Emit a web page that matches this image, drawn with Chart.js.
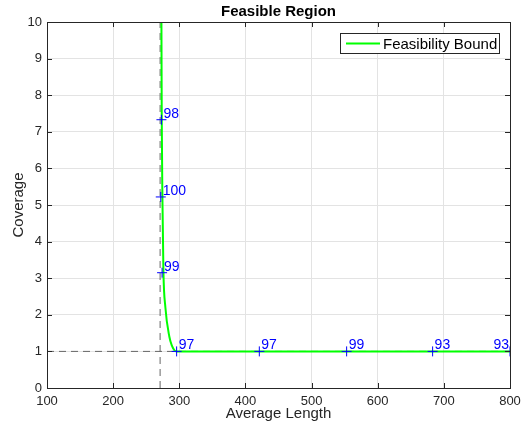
<!DOCTYPE html>
<html>
<head>
<meta charset="utf-8">
<script src="https://cdn.jsdelivr.net/npm/chart.js@4/dist/chart.umd.min.js"></script>
<style>
  html, body { margin: 0; padding: 0; background: #fff; }
  #wrap { width: 523px; height: 428px; }
</style>
</head>
<body>
<div id="wrap"><canvas id="c"></canvas></div>
<script>
// values
var curveX = [273, 273.5, 274.5, 276, 279, 285, 289, 293, 296, 800];
var curveY = [10, 7.3, 5.2, 3.2, 2.2, 1.4, 1.15, 1.02, 1, 1];
var markX = [273, 272, 274, 296, 421, 553, 683, 800];
var markY = [7.33, 5.22, 3.15, 1, 1, 1, 1, 1];
var markLabels = ['98', '100', '99', '97', '97', '99', '93', '93'];
var boundX = 271;
var boundY = 1;
var xTicks = [100, 200, 300, 400, 500, 600, 700, 800];
var yTicks = [0, 1, 2, 3, 4, 5, 6, 7, 8, 9, 10];

var FONT = '"Liberation Sans", Arial, Helvetica, sans-serif';
var AXIS = '#262626';

function pts(xs, ys) {
    return xs.map(function (x, i) { return {x: x, y: ys[i]}; });
}

var decor = {
    id: 'decor',
    afterDatasetsDraw: function (chart) {
        var ctx = chart.ctx, a = chart.chartArea;
        var xs = chart.scales.x, ys = chart.scales.y;
        ctx.save();
        // labels next to markers
        ctx.font = '14px ' + FONT;
        ctx.fillStyle = '#0000ff';
        ctx.textBaseline = 'alphabetic';
        markLabels.forEach(function (t, i) {
            var px = xs.getPixelForValue(markX[i]) + 2;
            var py = ys.getPixelForValue(markY[i]) - 2;
            var w = ctx.measureText(t).width;
            if (px + w > a.right) px = a.right - w - 1;
            ctx.fillText(t, px, py);
        });
        ctx.restore();
    },
    afterDraw: function (chart) {
        var ctx = chart.ctx, a = chart.chartArea;
        var xs = chart.scales.x, ys = chart.scales.y;
        ctx.save();
        // frame
        ctx.strokeStyle = AXIS;
        ctx.lineWidth = 1;
        ctx.strokeRect(Math.round(a.left) + 0.5, Math.round(a.top) + 0.5,
            Math.round(a.right - a.left), Math.round(a.bottom - a.top));
        // inward ticks
        ctx.beginPath();
        xTicks.forEach(function (v) {
            var p = Math.round(xs.getPixelForValue(v)) + 0.5;
            ctx.moveTo(p, a.bottom); ctx.lineTo(p, a.bottom - 5);
            ctx.moveTo(p, a.top); ctx.lineTo(p, a.top + 5);
        });
        yTicks.forEach(function (v) {
            var p = Math.round(ys.getPixelForValue(v)) + 0.5;
            ctx.moveTo(a.left, p); ctx.lineTo(a.left + 5, p);
            ctx.moveTo(a.right, p); ctx.lineTo(a.right - 5, p);
        });
        ctx.stroke();
        // title
        ctx.fillStyle = '#000';
        ctx.font = 'bold 15px ' + FONT;
        ctx.textAlign = 'center';
        ctx.textBaseline = 'middle';
        ctx.fillText('Feasible Region', (a.left + a.right) / 2, 12);
        // legend box
        var bx = 340.5, by = 33.5, bw = 159, bh = 20;
        ctx.fillStyle = '#fff';
        ctx.fillRect(bx, by, bw, bh);
        ctx.strokeStyle = AXIS;
        ctx.lineWidth = 1;
        ctx.strokeRect(bx, by, bw, bh);
        ctx.strokeStyle = '#00ff00';
        ctx.lineWidth = 2;
        ctx.beginPath();
        ctx.moveTo(346, by + bh / 2); ctx.lineTo(380, by + bh / 2);
        ctx.stroke();
        ctx.fillStyle = '#000';
        ctx.font = '15px ' + FONT;
        ctx.textAlign = 'left';
        ctx.fillText(chart.data.datasets[1].label, 383, by + bh / 2 + 1);
        ctx.restore();
    }
};

new Chart(document.getElementById('c'), {
    type: 'scatter',
    data: {
        datasets: [
            {
                label: 'Markers',
                data: pts(markX, markY),
                order: 0,
                pointStyle: 'cross',
                pointRadius: 5,
                borderColor: '#0000ff',
                pointBorderColor: '#0000ff',
                pointBorderWidth: 1,
                showLine: false
            },
            {
                label: 'Feasibility Bound',
                data: pts(curveX, curveY),
                order: 1,
                showLine: true,
                borderColor: '#00ff00',
                borderWidth: 2,
                pointRadius: 0,
                cubicInterpolationMode: 'monotone'
            },
            {
                label: 'vbound',
                data: [{x: boundX, y: 0}, {x: boundX, y: 10}],
                order: 2,
                showLine: true,
                borderColor: '#666',
                borderWidth: 1,
                borderDash: [7, 5],
                pointRadius: 0
            },
            {
                label: 'hbound',
                data: [{x: 100, y: boundY}, {x: 800, y: boundY}],
                order: 2,
                showLine: true,
                borderColor: '#666',
                borderWidth: 1,
                borderDash: [7, 5],
                pointRadius: 0
            }
        ]
    },
    options: {
        responsive: true,
        maintainAspectRatio: false,
        animation: false,
        layout: {padding: {top: 22, right: 13, left: 0, bottom: 0}},
        plugins: {
            legend: {display: false},
            tooltip: {enabled: false},
            title: {display: false}
        },
        scales: {
            x: {
                type: 'linear',
                min: 100, max: 800,
                afterBuildTicks: function (s) { s.ticks = xTicks.map(function (v) { return {value: v}; }); },
                afterFit: function (s) { s.height = 40; s.paddingLeft = 0; s.paddingRight = 0; },
                grid: {color: '#e3e3e3', drawTicks: false},
                border: {display: false},
                ticks: {color: AXIS, font: {family: FONT, size: 13}, padding: 6, maxRotation: 0},
                title: {display: true, text: 'Average Length', color: AXIS, font: {family: FONT, size: 15}, padding: {top: 0, bottom: 5}}
            },
            y: {
                type: 'linear',
                min: 0, max: 10,
                afterBuildTicks: function (s) { s.ticks = yTicks.map(function (v) { return {value: v}; }); },
                afterFit: function (s) { s.width = 47; s.paddingTop = 0; s.paddingBottom = 0; },
                grid: {color: '#e3e3e3', drawTicks: false},
                border: {display: false},
                ticks: {color: AXIS, font: {family: FONT, size: 13}, padding: 5},
                title: {display: true, text: 'Coverage', color: AXIS, font: {family: FONT, size: 15}, padding: {top: 10, bottom: 0}}
            }
        }
    },
    plugins: [decor]
});
</script>
</body>
</html>
